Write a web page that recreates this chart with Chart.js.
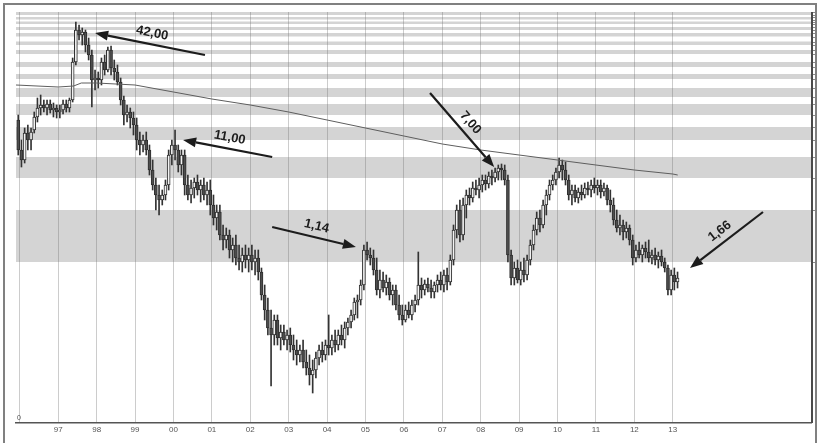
<!DOCTYPE html>
<html>
<head>
<meta charset="utf-8">
<script src="https://cdn.jsdelivr.net/npm/chart.js@4.4.1/dist/chart.umd.min.js"></script>
<style>
  html, body { margin: 0; padding: 0; background: #fff; overflow: hidden; }
  #wrap { position: relative; width: 824px; height: 443px; }
  #frame { position: absolute; left: 3px; top: 3px; width: 814px; height: 460px; box-sizing: border-box; border: 2px solid #808080; pointer-events: none; }
  canvas { position: absolute; left: 0; top: 0; }
</style>
</head>
<body>
<div id="wrap"><canvas id="c" width="824" height="443"></canvas><div id="frame"></div></div>
<script>
// monthly candles, first one = Dec 1995
const START_YEAR = 1995, START_MONTH = 11;

const open = [
  30.3,
  27.3, 26.3, 29.0, 28.3, 29.3, 30.6, 31.5, 31.8, 31.5, 31.9, 31.3, 31.5,
  31.1, 31.3, 31.9, 31.5, 32.3, 36.1, 39.3, 38.8, 39.1, 37.8, 36.8, 34.3,
  34.5, 34.3, 36.1, 35.3, 37.3, 35.5, 35.1, 34.1, 32.3, 30.8, 31.1, 30.5,
  29.8, 28.3, 27.8, 28.3, 27.3, 25.3, 23.8, 22.8, 22.3, 22.8, 23.8, 26.8,
  27.8, 27.3, 25.8, 26.8, 23.8, 22.8, 23.5, 24.1, 23.3, 23.8, 22.8, 23.3,
  21.8, 20.5, 21.1, 18.8, 18.3, 18.8, 17.3, 17.8, 16.5, 16.1, 16.8, 16.3,
  16.8, 16.1, 16.5, 15.1, 12.8, 11.3, 9.5, 8.8, 10.3, 8.5, 9.1, 8.3,
  8.8, 7.8, 7.3, 6.8, 7.3, 6.1, 5.5, 4.8, 5.3, 6.5, 7.3, 6.8,
  7.8, 7.5, 8.3, 7.8, 8.8, 8.3, 9.5, 10.1, 10.8, 12.1, 12.3, 13.8,
  17.3, 16.8, 16.5, 15.3, 13.3, 14.3, 13.5, 14.1, 12.8, 13.3, 11.8, 10.8,
  10.3, 11.3, 10.8, 11.8, 12.3, 13.8, 13.3, 13.9, 13.5, 13.1, 13.8, 14.3,
  13.8, 14.8, 14.1, 16.3, 19.3, 21.3, 18.8, 21.8, 22.8, 22.5, 23.5, 23.3,
  23.8, 24.3, 23.9, 24.7, 24.5, 25.1, 25.5, 25.3, 24.3, 16.8, 14.5, 15.5,
  14.3, 15.3, 14.8, 16.3, 17.8, 19.3, 20.5, 19.8, 21.8, 22.8, 23.8, 24.3,
  25.1, 25.8, 25.3, 24.3, 22.8, 23.3, 22.5, 23.1, 22.8, 23.5, 23.3, 23.8,
  23.5, 23.8, 23.1, 23.5, 22.3, 21.8, 20.3, 19.5, 19.8, 19.1, 19.5, 18.3,
  16.5, 17.3, 16.8, 17.5, 17.1, 16.5, 16.8, 16.3, 16.7, 16.1, 15.5, 13.3,
  14.8, 14.1
];
const high = [
  30.8,
  28.3, 29.5, 29.8, 29.5, 31.1, 32.5, 32.8, 32.3, 32.3, 32.3, 32.0, 31.8,
  31.8, 32.3, 32.3, 32.5, 36.5, 40.1, 39.8, 39.5, 39.3, 38.5, 37.3, 35.3,
  35.1, 36.5, 36.8, 37.6, 37.7, 36.3, 35.8, 34.5, 32.7, 31.8, 31.5, 31.1,
  30.5, 29.1, 28.8, 29.1, 27.8, 26.3, 24.5, 23.8, 23.3, 24.3, 27.3, 28.3,
  29.3, 27.8, 27.3, 27.3, 24.8, 24.3, 24.5, 24.8, 24.3, 24.5, 24.1, 24.3,
  22.8, 21.8, 21.8, 19.8, 19.5, 19.3, 18.5, 18.8, 17.8, 17.5, 17.8, 17.5,
  17.8, 17.3, 17.3, 15.5, 13.8, 12.5, 11.3, 10.8, 10.8, 9.8, 9.8, 9.3,
  9.5, 8.8, 8.3, 7.8, 8.3, 7.3, 6.8, 6.3, 7.1, 7.8, 8.1, 8.3,
  10.8, 8.8, 9.3, 9.3, 9.8, 10.1, 10.5, 11.3, 12.5, 12.8, 14.3, 17.8,
  18.1, 17.5, 17.3, 16.5, 15.3, 15.1, 14.8, 14.5, 13.8, 13.8, 12.8, 11.8,
  11.8, 12.1, 12.3, 12.8, 17.1, 14.5, 14.3, 14.5, 14.3, 14.1, 14.8, 15.1,
  15.3, 15.5, 16.8, 19.8, 21.8, 22.3, 22.5, 23.3, 23.5, 24.1, 24.3, 24.5,
  24.8, 24.8, 25.1, 25.3, 25.5, 25.8, 25.9, 25.8, 24.8, 17.3, 16.1, 16.3,
  16.1, 16.5, 16.8, 18.3, 19.8, 21.1, 21.3, 22.3, 23.3, 24.3, 24.8, 25.5,
  26.5, 26.3, 26.1, 24.8, 23.8, 23.8, 23.5, 23.8, 24.0, 24.1, 24.3, 24.5,
  24.3, 24.3, 24.0, 23.8, 23.3, 22.5, 21.3, 20.8, 20.3, 20.1, 19.8, 18.8,
  17.8, 18.1, 17.8, 18.1, 18.3, 17.3, 17.5, 17.1, 17.3, 16.5, 15.8, 15.3,
  15.5, 15.1
];
const low = [
  26.8,
  25.6, 26.0, 27.3, 27.3, 29.0, 30.1, 30.8, 31.1, 30.8, 31.0, 30.6, 30.5,
  30.5, 30.9, 31.1, 31.1, 32.1, 35.8, 38.3, 37.8, 37.1, 36.3, 31.6, 33.3,
  33.5, 33.8, 34.8, 35.1, 34.8, 34.3, 33.8, 31.8, 29.8, 30.1, 29.5, 28.8,
  27.3, 26.8, 27.1, 26.8, 24.8, 23.3, 21.3, 20.8, 21.8, 22.3, 23.3, 25.8,
  26.3, 25.1, 24.8, 22.8, 22.3, 22.0, 22.5, 22.8, 22.1, 22.3, 21.8, 20.8,
  19.8, 19.3, 18.3, 17.3, 17.5, 16.5, 16.1, 15.8, 15.3, 15.1, 15.5, 15.1,
  15.3, 14.8, 14.3, 12.3, 10.3, 8.8, 3.7, 7.8, 7.8, 7.3, 7.8, 7.3,
  7.1, 6.3, 5.8, 6.1, 5.5, 4.8, 3.8, 3.0, 4.5, 5.8, 6.1, 6.3,
  6.8, 6.8, 7.1, 7.3, 7.8, 7.5, 8.8, 9.5, 10.3, 10.5, 11.8, 13.3,
  16.3, 15.8, 14.8, 12.8, 12.5, 13.1, 12.8, 12.3, 11.8, 11.3, 10.3, 9.8,
  10.1, 10.5, 10.3, 11.1, 11.8, 12.5, 12.8, 13.1, 12.5, 12.5, 13.1, 13.3,
  13.1, 13.3, 13.8, 15.8, 18.5, 18.1, 18.3, 20.5, 21.8, 22.1, 22.8, 22.5,
  23.1, 23.3, 23.5, 23.8, 24.1, 24.3, 24.3, 23.8, 16.1, 13.8, 13.8, 14.0,
  13.8, 14.1, 14.3, 15.8, 17.3, 18.8, 19.1, 19.5, 20.8, 22.3, 23.3, 23.8,
  24.5, 24.3, 23.8, 22.3, 21.8, 22.1, 22.0, 22.3, 22.5, 22.8, 22.6, 23.0,
  22.8, 22.5, 22.7, 21.8, 21.1, 19.8, 19.1, 18.8, 18.3, 18.5, 17.8, 15.8,
  16.1, 16.5, 16.1, 16.5, 16.1, 15.9, 15.8, 15.5, 15.7, 15.1, 12.8, 12.8,
  13.3, 13.5
];
const close = [
  27.3,
  26.3, 29.0, 28.3, 29.1, 30.6, 31.5, 31.8, 31.5, 31.9, 31.3, 31.5, 31.1,
  31.3, 31.9, 31.5, 32.3, 36.1, 39.3, 38.8, 39.1, 37.8, 36.8, 34.3, 34.5,
  34.3, 36.1, 35.3, 37.3, 35.5, 35.1, 34.1, 32.3, 30.8, 31.1, 30.5, 29.8,
  28.3, 27.8, 28.3, 27.3, 25.3, 23.8, 22.8, 22.3, 22.8, 23.8, 26.8, 27.8,
  27.3, 25.8, 26.8, 23.8, 22.8, 23.5, 24.1, 23.3, 23.8, 22.8, 23.3, 21.8,
  20.5, 21.1, 18.8, 18.3, 18.8, 17.3, 17.8, 16.5, 16.1, 16.8, 16.3, 16.8,
  16.1, 16.5, 15.1, 12.8, 11.3, 9.5, 8.8, 10.3, 8.5, 9.1, 8.3, 8.8,
  7.8, 7.3, 6.8, 7.3, 6.1, 5.5, 4.8, 5.3, 6.5, 7.3, 6.8, 7.8,
  7.5, 8.3, 7.8, 8.8, 8.3, 9.5, 10.1, 10.8, 12.1, 12.3, 13.8, 17.3,
  16.8, 16.5, 15.3, 13.3, 14.3, 13.5, 14.1, 12.8, 13.3, 11.8, 10.8, 10.3,
  11.3, 10.8, 11.8, 12.3, 13.8, 13.3, 13.9, 13.5, 13.1, 13.8, 14.3, 13.8,
  14.8, 14.1, 16.3, 19.3, 21.3, 18.8, 21.8, 22.8, 22.5, 23.5, 23.3, 23.8,
  24.3, 23.9, 24.7, 24.5, 25.1, 25.5, 25.3, 24.3, 16.8, 14.5, 15.5, 14.3,
  15.3, 14.8, 16.3, 17.8, 19.3, 20.5, 19.8, 21.8, 22.8, 23.8, 24.3, 25.1,
  25.8, 25.3, 24.3, 22.8, 23.3, 22.5, 23.1, 22.8, 23.5, 23.3, 23.8, 23.5,
  23.8, 23.1, 23.5, 22.3, 21.8, 20.3, 19.5, 19.8, 19.1, 19.5, 18.3, 16.5,
  17.3, 16.8, 17.5, 17.1, 16.5, 16.8, 16.3, 16.7, 16.1, 15.5, 13.3, 14.8,
  14.1, 14.5
];

// long moving average
const maYears  = [1995.9, 1997.0, 1997.4, 1997.6, 1998.0, 1999.0, 2000.0, 2001.0, 2002.0, 2003.0, 2004.0, 2005.0, 2006.0, 2007.0, 2008.0, 2009.0, 2010.0, 2011.0, 2012.0, 2013.0, 2013.13];
const maValues = [33.8, 33.6, 33.7, 34.0, 34.0, 33.8, 33.1, 32.4, 31.8, 31.1, 30.3, 29.5, 28.7, 27.9, 27.3, 26.8, 26.3, 25.8, 25.3, 24.9, 24.8];

// grey horizontal zones
const bandLow  = [40.8, 40.35, 39.9, 39.3, 38.65, 37.8, 36.9, 35.6, 34.4, 32.6, 30.8, 28.3, 24.5, 16.1];
const bandHigh = [41.1, 40.6, 40.15, 39.6, 39.0, 38.15, 37.3, 36.1, 34.9, 33.5, 31.9, 29.6, 26.6, 21.3];

// x axis
const yearTicks  = [1996, 1997, 1998, 1999, 2000, 2001, 2002, 2003, 2004, 2005, 2006, 2007, 2008, 2009, 2010, 2011, 2012, 2013];
const yearLabels = ['', '97', '98', '99', '00', '01', '02', '03', '04', '05', '06', '07', '08', '09', '10', '11', '12', '13'];

// arrows
const arrowLabels = ['42,00', '11,00', '1,14', '7,00', '1,66'];
const arrowFromX = [2000.82, 2002.57, 2002.57, 2006.68, 2015.35];
const arrowFromY = [36.8, 26.6, 19.6, 33.0, 21.1];
const arrowToX   = [1997.96, 2000.25, 2004.75, 2008.35, 2013.45];
const arrowToY   = [39.0, 28.3, 17.6, 25.6, 15.5];

const monthX = i => START_YEAR + (START_MONTH + i + 0.5) / 12;
const wicks = low.map((l, i) => ({ x: monthX(i), y: [l, high[i]] }));
const bodies = open.map((o, i) => ({ x: monthX(i), y: [o, close[i]] }));
const bodyColors = open.map((o, i) => close[i] >= o ? '#f2f2f2' : '#4e4e4e');

const bandsPlugin = {
  id: 'bands',
  beforeDraw(chart) {
    const { ctx, chartArea: a, scales: { y } } = chart;
    ctx.save();
    ctx.fillStyle = '#d4d4d4';
    bandLow.forEach((lo, i) => {
      const y1 = y.getPixelForValue(bandHigh[i]);
      const y2 = y.getPixelForValue(lo);
      ctx.fillRect(a.left, y1, a.right - a.left, y2 - y1);
    });
    ctx.restore();
  }
};

function drawArrow(ctx, x1, y1, x2, y2) {
  const ang = Math.atan2(y2 - y1, x2 - x1);
  const hl = 13, hw = 5;
  const bx = x2 - hl * Math.cos(ang), by = y2 - hl * Math.sin(ang);
  ctx.beginPath();
  ctx.moveTo(x1, y1);
  ctx.lineTo(bx, by);
  ctx.stroke();
  ctx.beginPath();
  ctx.moveTo(x2, y2);
  ctx.lineTo(bx + hw * Math.sin(ang), by - hw * Math.cos(ang));
  ctx.lineTo(bx - hw * Math.sin(ang), by + hw * Math.cos(ang));
  ctx.closePath();
  ctx.fill();
}

const annotPlugin = {
  id: 'annot',
  afterDatasetsDraw(chart) {
    const { ctx, chartArea: a, scales: { x, y } } = chart;
    ctx.save();
    // right border of the plot
    ctx.strokeStyle = '#4a4a4a';
    ctx.lineWidth = 2;
    ctx.beginPath();
    ctx.moveTo(a.right + 1, a.top);
    ctx.lineTo(a.right + 1, a.bottom);
    ctx.stroke();
    // small marks for zone edges on the right
    ctx.strokeStyle = '#8a8a8a';
    ctx.lineWidth = 1;
    bandLow.concat(bandHigh).forEach(v => {
      const py = Math.round(y.getPixelForValue(v)) + 0.5;
      ctx.beginPath();
      ctx.moveTo(a.right + 2, py);
      ctx.lineTo(a.right + 5, py);
      ctx.stroke();
    });
    // zero label
    ctx.fillStyle = '#555';
    ctx.font = '7px "Liberation Sans"';
    ctx.textAlign = 'left';
    ctx.textBaseline = 'bottom';
    ctx.fillText('0', a.left + 1, y.getPixelForValue(0) - 1);

    // arrows with labels
    ctx.strokeStyle = '#1c1c1c';
    ctx.fillStyle = '#1c1c1c';
    ctx.lineWidth = 2.2;
    ctx.font = 'bold 13px "Liberation Sans"';
    ctx.textAlign = 'center';
    ctx.textBaseline = 'middle';
    arrowLabels.forEach((lab, i) => {
      const x1 = x.getPixelForValue(arrowFromX[i]), y1 = y.getPixelForValue(arrowFromY[i]);
      const x2 = x.getPixelForValue(arrowToX[i]), y2 = y.getPixelForValue(arrowToY[i]);
      drawArrow(ctx, x1, y1, x2, y2);
      let th = Math.atan2(y2 - y1, x2 - x1);
      if (th > Math.PI / 2) th -= Math.PI;
      if (th < -Math.PI / 2) th += Math.PI;
      const mx = (x1 + x2) / 2 + 11 * Math.sin(th);
      const my = (y1 + y2) / 2 - 11 * Math.cos(th);
      ctx.save();
      ctx.translate(mx, my);
      ctx.rotate(th);
      ctx.fillText(lab, 0, 0);
      ctx.restore();
    });
    ctx.restore();
  }
};

new Chart(document.getElementById('c'), {
  type: 'bar',
  data: {
    datasets: [
      {
        type: 'line',
        data: maYears.map((yr, i) => ({ x: yr, y: maValues[i] })),
        borderColor: '#5e5e5e',
        borderWidth: 1,
        pointRadius: 0,
        order: 0
      },
      {
        data: bodies,
        backgroundColor: bodyColors,
        borderColor: '#2e2e2e',
        borderWidth: 1,
        borderSkipped: false,
        barThickness: 3,
        grouped: false,
        order: 1
      },
      {
        data: wicks,
        backgroundColor: '#333',
        borderWidth: 0,
        barThickness: 1,
        grouped: false,
        order: 2
      }
    ]
  },
  options: {
    responsive: false,
    animation: false,
    devicePixelRatio: 1,
    layout: { padding: { left: 16, top: 12, right: 13, bottom: 0 } },
    plugins: { legend: { display: false }, tooltip: { enabled: false } },
    scales: {
      x: {
        type: 'linear',
        min: 1995.9,
        max: 2016.6,
        offset: false,
        afterBuildTicks: s => { s.ticks = yearTicks.map(v => ({ value: v })); },
        afterFit: s => { s.height = 20; },
        grid: { offset: false, color: 'rgba(110,110,110,0.35)', lineWidth: 1, drawTicks: false },
        border: { color: '#555', width: 1.5 },
        ticks: {
          autoSkip: false,
          maxRotation: 0,
          padding: 2,
          color: '#555',
          font: { size: 8, family: 'Liberation Sans' },
          callback: (v, i) => yearLabels[i]
        }
      },
      y: { display: false, min: 0, max: 41.1 }
    }
  },
  plugins: [bandsPlugin, annotPlugin]
});
</script>
</body>
</html>
